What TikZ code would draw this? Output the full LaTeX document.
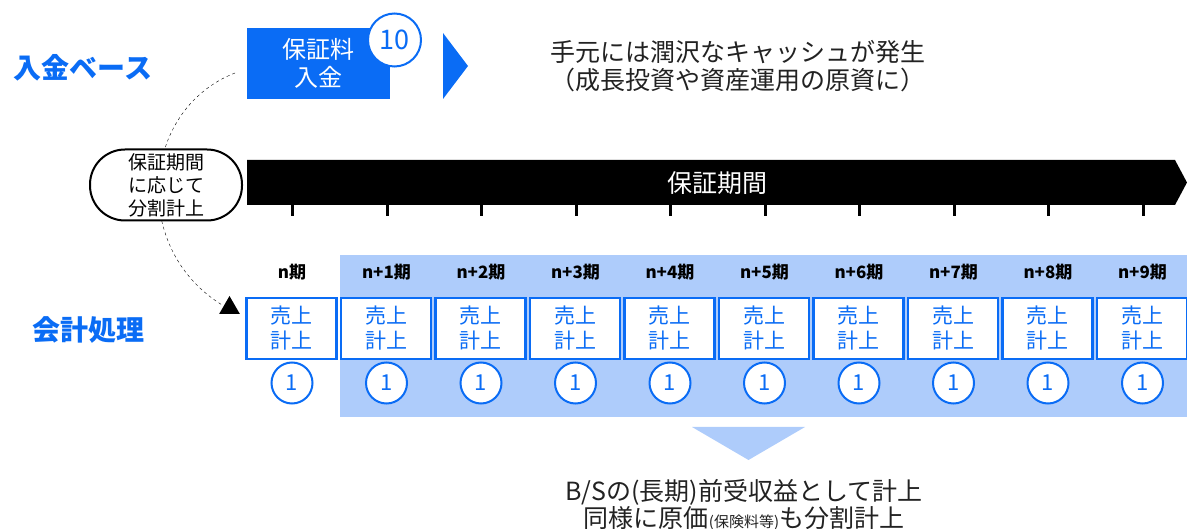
\documentclass[tikz,border=0pt]{standalone}
\usepackage{fontspec}
\setmainfont{Noto Sans CJK JP}
\usetikzlibrary{positioning,shapes.geometric,calc}
\definecolor{mainblue}{RGB}{10,108,245}
\definecolor{paleblue}{RGB}{174,204,251}
\definecolor{inkgray}{RGB}{34,34,34}

\begin{document}
\begin{tikzpicture}[
    x=1pt, y=-1pt,
    heading/.style={text=mainblue, font=\fontsize{28}{32}\selectfont\bfseries},
    payment/.style={rectangle, fill=mainblue, text=white, minimum width=143pt, minimum height=71pt, align=center, font=\fontsize{24}{28}\selectfont},
    badge/.style={circle, draw=mainblue, line width=2pt, fill=white, text=mainblue, minimum size=53pt, inner sep=0pt, font=\fontsize{27}{27}\selectfont},
    note/.style={align=center, text=inkgray, font=\fontsize{25}{28}\selectfont},
    capsule/.style={rectangle, draw, line width=2pt, fill=white, rounded corners=35pt, minimum width=152pt, minimum height=71pt, align=center, font=\fontsize{19}{23}\selectfont},
    period/.style={font=\fontsize{17}{17}\selectfont\bfseries},
    sales/.style={rectangle, draw=mainblue, line width=2.5pt, fill=white, text=mainblue, minimum width=90pt, minimum height=61pt, align=center, font=\fontsize{21}{25}\selectfont},
    unit/.style={circle, draw=mainblue, line width=2pt, fill=white, text=mainblue, minimum size=41pt, inner sep=0pt, font=\fontsize{22}{22}\selectfont},
    notch/.style={line width=3pt}
]
\useasboundingbox (0,0) rectangle (1187,529);

% left headings
\node[heading] (base) at (83,68) {入金ベース};
\node[heading] (acct) at (88,330) {会計処理};

% premium received
\node[payment] (pay) at (318.5,63.5) {保証料\\入金};
\node[badge] (ten) at (394.5,40) {10};
\fill[mainblue] (443,33) -- (468,66) -- (443,99) -- cycle;
\node[note] (cash) at (738,66) {手元には潤沢なキャッシュが発生\\（成長投資や資産運用の原資に）};

% pale band behind later periods
\fill[paleblue] (340,255) rectangle (1187,417);

% dashed link
\node[regular polygon, regular polygon sides=3, fill=black, minimum size=24pt, inner sep=0pt] (tip) at (229.5,308) {};
\coordinate (from) at (235,73);
\draw[dashed, thin] (from) .. controls (140,110) and (130,250) .. (tip.160);
\node[capsule] (spread) at (166,185) {保証期間\\に応じて\\分割計上};

% term bar
\fill (247,160) -- (1175,160) -- (1187,182.5) -- (1175,205) -- (247,205) -- cycle;
\node[text=white, font=\fontsize{25}{25}\selectfont] (term) at (717,183) {保証期間};

% periods
\foreach \i in {0,...,9} {
    \draw[notch] (292.7+94.5*\i,205) -- ++(0,11);
    \node[period] (p\i) at (292+94.5*\i,272) {\ifnum\i=0 n\else n+\i\fi 期};
    \node[sales] (s\i) at (291.5+94.5*\i,328.5) {売上\\計上};
    \node[unit] (u\i) at (292+94.5*\i,383) {1};
}

% result
\fill[paleblue] (692,427) -- (805,427) -- (748.5,460) -- cycle;
\node[note, font=\fontsize{25}{25}\selectfont] (bs) at (744,505) {B/Sの(長期)前受収益として計上\\同様に原価{\fontsize{15}{15}\selectfont(保険料等)}も分割計上};

\end{tikzpicture}
\end{document}
